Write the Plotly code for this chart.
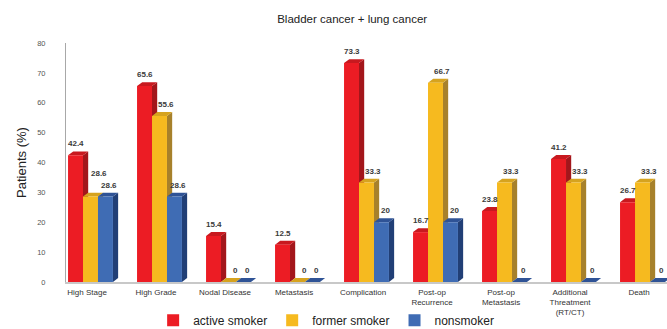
import plotly.graph_objects as go

# Outcome categories and percentages of patients per smoking status
categories = ["High Stage", "High Grade", "Nodal Disease", "Metastasis", "Complication",
              "Post-op<br>Recurrence", "Post-op<br>Metastasis",
              "Additional<br>Threatment<br>(RT/CT)", "Death"]
active_smoker = [42.4, 65.6, 15.4, 12.5, 73.3, 16.7, 23.8, 41.2, 26.7]
former_smoker = [28.6, 55.6, 0, 0, 33.3, 66.7, 33.3, 33.3, 33.3]
nonsmoker = [28.6, 28.6, 0, 0, 20, 20, 0, 0, 0]
y_ticks = [0, 10, 20, 30, 40, 50, 60, 70, 80]

# name, values, front / side / top colours, horizontal label shift (px)
series = [
    ("active smoker", active_smoker, "#EC1C24", "#A3161B", "#C8191F", -2),
    ("former smoker", former_smoker, "#F6BA1F", "#A7812B", "#D6A31F", 4),
    ("nonsmoker", nonsmoker, "#3F6CB4", "#213F76", "#2F5396", 1),
]

# labels nudged (in px) so neighbouring value labels do not collide
label_nudge = {(1, 0): (2, 12)}

FONT = "Liberation Sans, Arial, sans-serif"
bar_w = 0.217          # width of one bar (category units)
depth_x = 0.075        # horizontal depth of the 3D extrusion
depth_y = 1.3          # vertical depth of the 3D extrusion (data units)

xs = list(range(len(categories)))
fig = go.Figure()
shapes = []
annotations = []

for k, (name, vals, front, side, top, lshift) in enumerate(series):
    offset = (k - 1) * bar_w
    centers = [x + offset for x in xs]
    fig.add_trace(go.Bar(
        x=centers, y=vals, name=name, width=bar_w,
        marker=dict(color=front, line=dict(width=0)),
        hoverinfo="y+name",
    ))
    for i, (c, v) in enumerate(zip(centers, vals)):
        x0, x1 = c - bar_w / 2, c + bar_w / 2
        # right-hand side face
        shapes.append(dict(
            type="path", layer="below", xref="x", yref="y",
            path=(f"M{x1},0 L{x1 + depth_x},{depth_y} L{x1 + depth_x},{v + depth_y} "
                  f"L{x1},{v} Z"),
            fillcolor=side, line=dict(width=0),
        ))
        # top face
        shapes.append(dict(
            type="path", layer="below", xref="x", yref="y",
            path=(f"M{x0},{v} L{x1},{v} L{x1 + depth_x},{v + depth_y} "
                  f"L{x0 + depth_x},{v + depth_y} Z"),
            fillcolor=top, line=dict(width=0),
        ))
        nx, ny = label_nudge.get((k, i), (0, 0))
        annotations.append(dict(
            x=c + depth_x / 2, y=v + depth_y, xref="x", yref="y",
            text=f"<b>{v:g}</b>", showarrow=False, yanchor="bottom",
            xshift=lshift + nx, yshift=1 + ny,
            font=dict(family=FONT, size=8, color="#3a3a3a"),
        ))

fig.update_layout(
    width=667, height=329,
    margin=dict(l=66, r=0, t=43, b=47, autoexpand=False),
    paper_bgcolor="white", plot_bgcolor="white",
    barmode="overlay",
    title=dict(text="Bladder cancer + lung cancer", x=0.528, xanchor="center",
               y=0.942, yanchor="middle",
               font=dict(family=FONT, size=11.5, color="#222")),
    font=dict(family=FONT, color="#333"),
    shapes=shapes,
    annotations=annotations,
    showlegend=True,
    legend=dict(orientation="h", x=0.145, xanchor="left", y=-0.16, yanchor="middle",
                font=dict(family=FONT, size=12, color="#222"),
                bgcolor="rgba(0,0,0,0)", traceorder="normal"),
    xaxis=dict(
        range=[-0.355, 8.355], tickmode="array", tickvals=[x - 0.05 for x in xs],
        ticktext=categories, showline=True, linecolor="#c8c8c8", linewidth=2,
        showgrid=False, zeroline=False, ticks="", ticklabelstandoff=1,
        tickfont=dict(family=FONT, size=8, color="#333"),
    ),
    yaxis=dict(
        range=[0, 80], tickmode="array", tickvals=y_ticks,
        showline=True, linecolor="#a8a8a8", linewidth=1,
        showgrid=False, zeroline=False, ticks="", ticklabelstandoff=18,
        tickfont=dict(family=FONT, size=7.5, color="#555"),
        title=dict(text="Patients (%)", standoff=7,
                   font=dict(family=FONT, size=13, color="#222")),
    ),
)

fig.write_html("out.html")
